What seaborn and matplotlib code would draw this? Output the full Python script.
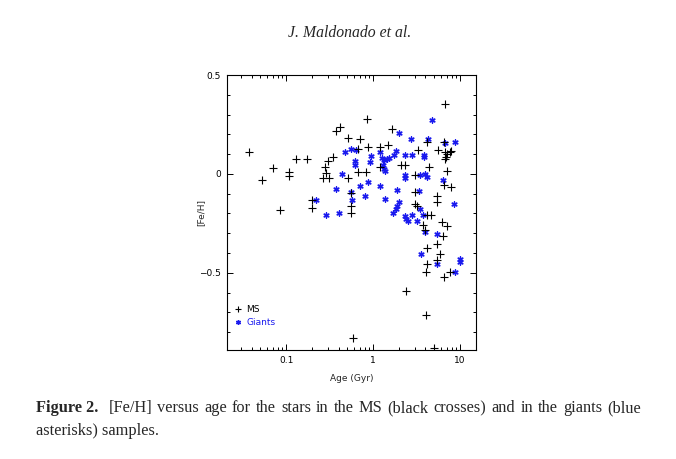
import numpy as np
import pandas as pd
import matplotlib
matplotlib.use("Agg")
import matplotlib.pyplot as plt
import seaborn as sns
from matplotlib.ticker import LogLocator, MultipleLocator, FixedLocator, FixedFormatter, NullFormatter
from matplotlib.lines import Line2D

# ---- data ----
ms_age = [0.037, 0.053, 0.0705, 0.084, 0.108, 0.108, 0.128, 0.175, 0.20, 0.196,
          0.265, 0.284, 0.311, 0.28, 0.303, 0.349, 0.378, 0.41, 0.51, 0.70,
          0.85, 0.52, 0.67, 0.83, 0.67, 0.875, 1.21, 1.47, 1.21, 1.63,
          0.56, 0.55, 0.55, 0.59, 2.12, 2.31, 3.27, 5.6, 4.19, 6.5,
          6.65, 6.7, 7.1, 7.6, 7.95, 6.9, 6.8, 4.37, 7.12, 3.01,
          6.5, 7.92, 3.07, 5.46, 5.46, 3.0, 3.2, 4.19, 4.65, 3.72,
          3.93, 6.23, 7.12, 6.34, 5.46, 4.19, 5.96, 5.46, 4.19, 4.08,
          7.57, 6.5, 2.38, 4.04, 5.05]
ms_feh = [0.11, -0.03, 0.028, -0.18, 0.012, -0.01, 0.075, 0.075, -0.134, -0.17,
          -0.02, 0.003, -0.02, 0.037, 0.063, 0.084, 0.218, 0.238, 0.184, 0.176,
          0.277, -0.022, 0.008, 0.008, 0.126, 0.134, 0.134, 0.146, 0.035, 0.226,
          -0.096, -0.163, -0.198, -0.83, 0.045, 0.045, 0.121, 0.121, 0.163, 0.159,
          0.352, 0.112, 0.10, 0.109, 0.117, 0.087, 0.075, 0.037, 0.017, -0.008,
          -0.055, -0.067, -0.092, -0.114, -0.143, -0.151, -0.16, -0.21, -0.21, -0.257,
          -0.282, -0.244, -0.265, -0.316, -0.352, -0.377, -0.403, -0.436, -0.456, -0.495,
          -0.495, -0.52, -0.59, -0.715, -0.88]

gi_age = [0.222, 0.284, 0.40, 0.37, 0.44, 0.48, 0.55, 0.64, 0.61, 0.61,
          0.56, 0.57, 0.70, 0.815, 0.875, 0.955, 0.93, 1.21, 1.27, 1.35,
          1.43, 1.51, 1.31, 1.33, 1.38, 1.21, 1.36, 1.73, 1.81, 1.97,
          2.76, 4.3, 6.8, 8.7, 4.78, 2.31, 2.81, 3.83, 3.83, 2.31,
          2.31, 3.5, 3.93, 4.19, 6.34, 1.89, 3.35, 8.6, 1.97, 1.89,
          1.81, 1.68, 3.5, 2.31, 2.4, 2.81, 2.53, 3.2, 3.72, 3.93,
          5.46, 3.6, 9.9, 10.1, 5.46, 8.87]
gi_feh = [-0.13, -0.21, -0.20, -0.077, 0.0, 0.109, 0.126, 0.122, 0.067, 0.045,
          -0.089, -0.13, -0.062, -0.113, -0.042, 0.089, 0.062, 0.109, 0.078, 0.072,
          0.075, 0.078, 0.045, 0.025, 0.017, -0.062, -0.126, 0.096, 0.117, 0.206,
          0.176, 0.176, 0.154, 0.159, 0.273, 0.096, 0.096, 0.096, 0.084, -0.005,
          -0.022, -0.008, 0.0, -0.017, -0.029, -0.08, -0.084, -0.151, -0.143, -0.16,
          -0.176, -0.198, -0.176, -0.215, -0.226, -0.21, -0.238, -0.238, -0.21, -0.294,
          -0.305, -0.406, -0.428, -0.445, -0.456, -0.495]

labels = ["MS", "Giants"]
x_ticks = [0.1, 1, 10]
x_ticklabels = ["0.1", "1", "10"]
y_ticks = [-0.5, 0, 0.5]
y_ticklabels = ["\u22120.5", "0", "0.5"]

header = "J. Maldonado et al."
caption_bold = "Figure 2."
caption_line1 = "[Fe/H] versus age for the stars in the MS (black crosses) and in the giants (blue"
caption_line2 = "asterisks) samples."

ms_df = pd.DataFrame({"age": ms_age, "feh": ms_feh})
gi_df = pd.DataFrame({"age": gi_age, "feh": gi_feh})

sns.set_theme(style="ticks")
plt.rcParams["font.family"] = ["DejaVu Sans"]

W, H = 676, 459
fig = plt.figure(figsize=(W / 100, H / 100), dpi=100)
fig.patch.set_facecolor("white")
ax = fig.add_axes([0.3354, 0.2375, 0.3688, 0.5991])
ax.set_facecolor("white")

blue = "#1a1aee"
sns.scatterplot(data=ms_df, x="age", y="feh", marker="+", s=36, color="black",
                linewidth=0.8, ax=ax, legend=False, zorder=3)
sns.scatterplot(data=gi_df, x="age", y="feh", marker=(6, 2, 0), s=14, color=blue,
                edgecolor=blue, linewidth=1.0, ax=ax, legend=False, zorder=2)

ax.set_xscale("log")
ax.set_xlim(0.0206, 15.3)
ax.set_ylim(-0.89, 0.5)

ax.xaxis.set_major_locator(FixedLocator(x_ticks))
ax.xaxis.set_major_formatter(FixedFormatter(x_ticklabels))
ax.xaxis.set_minor_locator(LogLocator(base=10, subs=np.arange(2, 10)))
ax.xaxis.set_minor_formatter(NullFormatter())
ax.yaxis.set_major_locator(FixedLocator(y_ticks))
ax.yaxis.set_major_formatter(FixedFormatter(y_ticklabels))
ax.yaxis.set_minor_locator(MultipleLocator(0.1))

ax.tick_params(which="both", direction="in", top=True, right=True,
               width=0.7, colors="black", labelsize=6.5, pad=4)
ax.tick_params(which="major", length=4)
ax.tick_params(which="minor", length=2.2)
for sp in ax.spines.values():
    sp.set_visible(True)
    sp.set_linewidth(0.8)
    sp.set_color("black")

ax.set_xlabel("Age (Gyr)", fontsize=6.5, labelpad=7)
ax.set_ylabel("[Fe/H]", fontsize=6.5)
ax.yaxis.set_label_coords(-0.087, 0.5)

handles = [Line2D([], [], marker="+", color="black", linestyle="none", markersize=5, mew=0.8),
           Line2D([], [], marker=(6, 2, 0), color=blue, linestyle="none", markersize=3.5, mew=1.0)]
leg = ax.legend(handles, labels, loc="lower left", bbox_to_anchor=(0.0, 0.057),
                frameon=False, fontsize=6.5, handlelength=1.0, handletextpad=0.4,
                labelspacing=0.45, borderpad=0.3, labelcolor=["black", blue])

serif = ["Liberation Serif", "DejaVu Serif"]
fig.text(350 / W, 1 - 33 / H, header, fontsize=11.3, style="italic",
         family=serif, ha="center", va="center")

# justified first caption line
fs = 11.8
renderer = fig.canvas.get_renderer()
x0, x1 = 36.0, 641.0
y1 = 1 - 408 / H
y2 = 1 - 431 / H
tokens = [(caption_bold, "bold")] + [(w, "normal") for w in caption_line1.split(" ")]
objs = []
for txt, wt in tokens:
    t = fig.text(0, y1, txt, fontsize=fs, weight=wt, family=serif, ha="left", va="center")
    objs.append(t)
widths = [t.get_window_extent(renderer=renderer).width for t in objs]
weights = [2.0] + [1.0] * (len(tokens) - 2)
gap = (x1 - x0 - sum(widths)) / sum(weights)
x = x0
for i, t in enumerate(objs):
    t.set_x(x / W)
    x += widths[i]
    if i < len(weights):
        x += gap * weights[i]

fig.text(x0 / W, y2, caption_line2, fontsize=fs, family=serif, ha="left", va="center")

fig.savefig("out.png", dpi=100, facecolor="white")
